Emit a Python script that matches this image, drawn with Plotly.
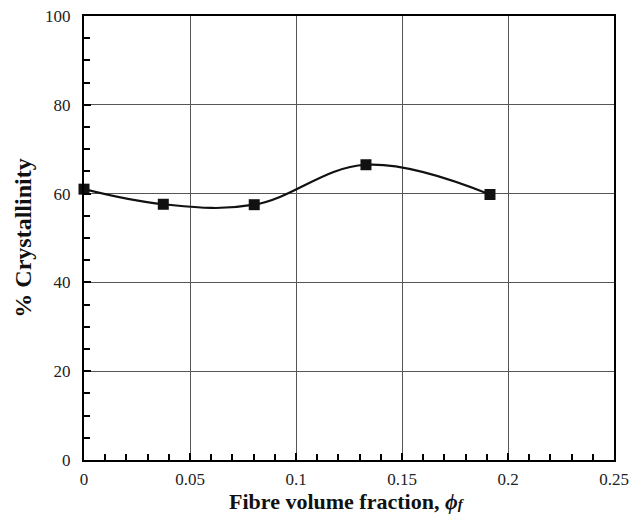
import plotly.graph_objects as go

fibre_fraction = [0.0, 0.0374, 0.0803, 0.1330, 0.1915]
crystallinity = [61.0, 57.6, 57.5, 66.5, 59.8]

x_ticks = [0, 0.05, 0.1, 0.15, 0.2, 0.25]
x_tick_text = ["0", "0.05", "0.1", "0.15", "0.2", "0.25"]
y_ticks = [0, 20, 40, 60, 80, 100]
x_title = "<b>Fibre volume fraction, <i>ϕ<span style='font-size:15px'>f</span></i></b>"
y_title = "<b>% Crystallinity</b>"

fig = go.Figure()
fig.add_trace(go.Scatter(
    x=fibre_fraction, y=crystallinity, mode="lines+markers",
    line=dict(color="#111111", width=2.2, shape="spline", smoothing=1.1),
    marker=dict(symbol="square", size=11, color="#111111"),
    cliponaxis=False, showlegend=False,
))

font = dict(family="Liberation Serif, Times New Roman, serif", color="#222222")
fig.update_layout(
    width=642, height=517,
    margin=dict(l=84, r=28, t=16, b=57, autoexpand=False),
    paper_bgcolor="white", plot_bgcolor="white",
    font=dict(**font, size=17),
    xaxis=dict(
        range=[0, 0.25], tickvals=x_ticks, ticktext=x_tick_text,
        showgrid=True, gridcolor="#555555", gridwidth=1,
        showline=True, linecolor="black", linewidth=2, mirror=True,
        ticks="inside", ticklen=7, tickwidth=2, tickcolor="black",
        minor=dict(dtick=0.01, ticks="inside", ticklen=6, tickwidth=1.5, tickcolor="black", showgrid=False),
        zeroline=False, tickfont=dict(size=17), ticklabelstandoff=3,
        automargin=False,
    ),
    yaxis=dict(
        range=[0, 100], tickvals=y_ticks,
        showgrid=True, gridcolor="#555555", gridwidth=1,
        showline=True, linecolor="black", linewidth=2, mirror=True,
        ticks="inside", ticklen=7, tickwidth=2, tickcolor="black",
        minor=dict(dtick=5, ticks="inside", ticklen=6, tickwidth=1.5, tickcolor="black", showgrid=False),
        zeroline=False, tickfont=dict(size=17), ticklabelstandoff=8,
        automargin=False,
        title=dict(text=y_title, font=dict(size=24, color="#111111"), standoff=7),
    ),
    annotations=[dict(
        text=x_title, xref="paper", yref="paper", x=0.497, y=0,
        xanchor="center", yanchor="bottom", yshift=-56, showarrow=False,
        font=dict(size=22, color="#111111"),
    )],
)

fig.write_html("out.html")
